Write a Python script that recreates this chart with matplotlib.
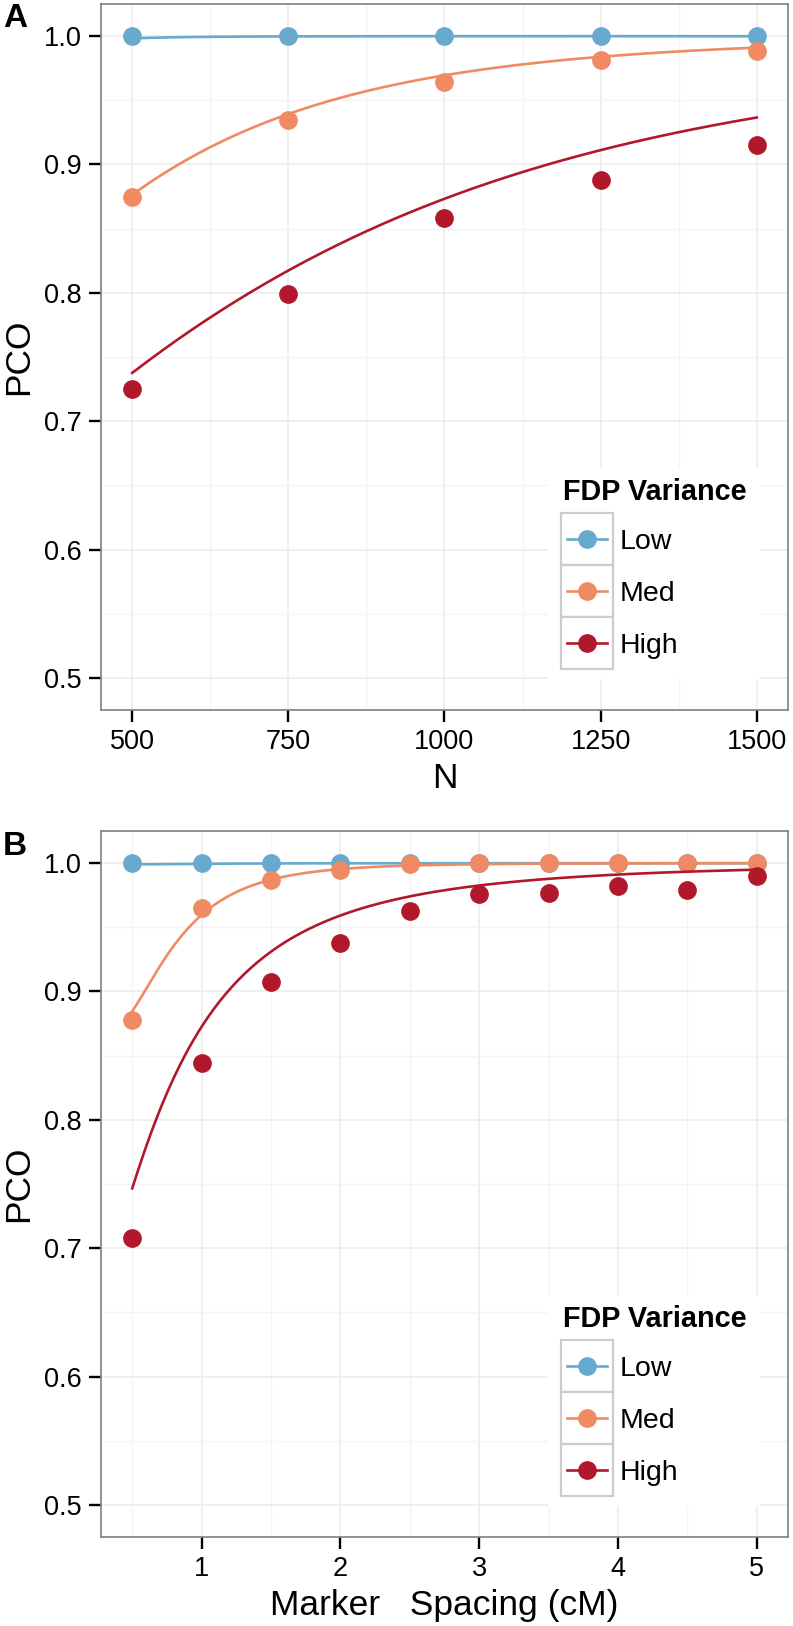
import numpy as np
import matplotlib
matplotlib.use("Agg")
import matplotlib.pyplot as plt
from matplotlib.patches import Rectangle
from matplotlib.lines import Line2D

plt.rcParams['font.family'] = ['Liberation Sans', 'DejaVu Sans']

groups = ['Low', 'Med', 'High']
colors = ['#67A9CF', '#EF8A62', '#B2182B']

# panel A: PCO against N
n_vals = [500, 750, 1000, 1250, 1500]
pco_a_low = [1.0, 1.0, 1.0, 1.0, 1.0]
pco_a_med = [0.875, 0.935, 0.964, 0.981, 0.988]
pco_a_high = [0.725, 0.799, 0.858, 0.888, 0.915]
fit_a_low = [0.9974, 0.9999, 0.9999, 0.9999, 0.9999]
fit_a_med = [0.876, 0.940, 0.969, 0.984, 0.991]
fit_a_high = [0.736, 0.820, 0.873, 0.910, 0.937]

# panel B: PCO against marker spacing
spacing = [0.5, 1.0, 1.5, 2.0, 2.5, 3.0, 3.5, 4.0, 4.5, 5.0]
pco_b_low = [1.0, 1.0, 1.0, 1.0, 1.0, 1.0, 1.0, 1.0, 1.0, 1.0]
pco_b_med = [0.878, 0.965, 0.987, 0.995, 0.999, 1.0, 1.0, 1.0, 1.0, 1.0]
pco_b_high = [0.708, 0.844, 0.907, 0.938, 0.963, 0.976, 0.977, 0.982, 0.979, 0.990]
fit_b_low = [0.999, 0.9995, 0.9997, 0.9998, 0.9999, 0.9999, 0.9999, 0.9999, 0.9999, 0.9999]
fit_b_med = [0.880, 0.967, 0.986, 0.994, 0.998, 0.9992, 0.9996, 0.9998, 0.9999, 0.9999]
fit_b_high = [0.746, 0.875, 0.929, 0.959, 0.974, 0.983, 0.988, 0.991, 0.993, 0.995]


def smooth(x, y, logx, deg, scale=1.0):
    # logistic-type smooth through the fitted values
    x = np.asarray(x, float) / scale
    y = np.clip(np.asarray(y, float), 1e-5, 1 - 1e-5)
    t = np.log(x) if logx else x
    coef = np.polyfit(t, np.log(y / (1 - y)), deg)
    xs = np.linspace(x.min(), x.max(), 300)
    ts = np.log(xs) if logx else xs
    return xs * scale, 1 / (1 + np.exp(-np.polyval(coef, ts)))


def style_axes(ax, xlim, xmaj, xmin, xlab):
    ax.set_xlim(*xlim)
    ax.set_ylim(0.475, 1.025)
    ax.set_xticks(xmaj)
    ax.set_xticks(xmin, minor=True)
    ax.set_yticks([0.5, 0.6, 0.7, 0.8, 0.9, 1.0])
    ax.set_yticks([0.55, 0.65, 0.75, 0.85, 0.95], minor=True)
    ax.grid(which='major', color='#EBEBEB', lw=1.1, zorder=0)
    ax.grid(which='minor', color='#F4F4F4', lw=1.0, zorder=0)
    ax.set_axisbelow(True)
    for s in ax.spines.values():
        s.set_color('#7F7F7F')
        s.set_linewidth(1.2)
    ax.tick_params(which='major', length=8.5, width=1.7, color='black',
                   labelsize=19.5, pad=5.5, direction='out')
    ax.tick_params(which='minor', length=0)
    ax.set_xlabel(xlab, fontsize=25.5, va='baseline')
    ax.xaxis.set_label_coords(0.5, -0.1105)
    ax.set_ylabel('PCO', fontsize=25.5, va='center')
    ax.yaxis.set_label_coords(-0.12, 0.5)


def draw_legend(ax):
    ax.add_patch(Rectangle((0.651, 0.044), 0.308, 0.299, transform=ax.transAxes,
                           facecolor='white', edgecolor='none', zorder=5))
    ax.text(0.6725, 0.2975, 'FDP Variance', transform=ax.transAxes, fontsize=20.8,
            fontweight='bold', va='baseline', ha='left', zorder=6)
    kh = 0.07365
    top = 0.279
    for i, (g, c) in enumerate(zip(groups, colors)):
        y0 = top - (i + 1) * kh
        ax.add_patch(Rectangle((0.670, y0), 0.075, kh, transform=ax.transAxes,
                               facecolor='white', edgecolor='#CCCCCC', lw=1.6, zorder=6))
        yc = y0 + kh / 2
        ax.add_line(Line2D([0.678, 0.737], [yc, yc], transform=ax.transAxes,
                           color=c, lw=1.9, zorder=7))
        ax.add_line(Line2D([0.7075], [yc], transform=ax.transAxes, marker='o',
                           color=c, markersize=13.5, markeredgewidth=0, zorder=8))
        ax.text(0.7555, yc - 0.0145, g, transform=ax.transAxes, fontsize=20.5,
                va='baseline', ha='left', zorder=7)


fig = plt.figure(figsize=(7.93, 16.26), dpi=100)
axA = fig.add_axes([101 / 793, 1 - 710 / 1626, 687 / 793, 706 / 1626])
axB = fig.add_axes([101 / 793, 1 - 1537 / 1626, 687 / 793, 706 / 1626])

a_pts = [pco_a_low, pco_a_med, pco_a_high]
a_fit = [fit_a_low, fit_a_med, fit_a_high]
for i, c in enumerate(colors):
    xs, ys = smooth(n_vals, a_fit[i], False, 2, scale=1000.0)
    axA.plot(xs, ys, color=c, lw=1.9, zorder=2 + i)
    axA.plot(n_vals, a_pts[i], 'o', color=c, markersize=13.5, markeredgewidth=0,
             zorder=2 + i)

b_pts = [pco_b_low, pco_b_med, pco_b_high]
b_fit = [fit_b_low, fit_b_med, fit_b_high]
for i, c in enumerate(colors):
    xs, ys = smooth(spacing, b_fit[i], True, 3)
    axB.plot(xs, ys, color=c, lw=1.9, zorder=2 + i)
    axB.plot(spacing, b_pts[i], 'o', color=c, markersize=13.5, markeredgewidth=0,
             zorder=2 + i)

style_axes(axA, (450, 1550), [500, 750, 1000, 1250, 1500],
           [625, 875, 1125, 1375], 'N')
style_axes(axB, (0.275, 5.225), [1, 2, 3, 4, 5],
           [0.5, 1.5, 2.5, 3.5, 4.5], 'Marker   Spacing (cM)')

draw_legend(axA)
draw_legend(axB)

fig.text(3 / 793, 1 - 27 / 1626, 'A', fontsize=24, fontweight='bold',
         ha='left', va='baseline')
fig.text(3 / 793, 1 - 855 / 1626, 'B', fontsize=24, fontweight='bold',
         ha='left', va='baseline')

fig.savefig('out.png', dpi=100)
